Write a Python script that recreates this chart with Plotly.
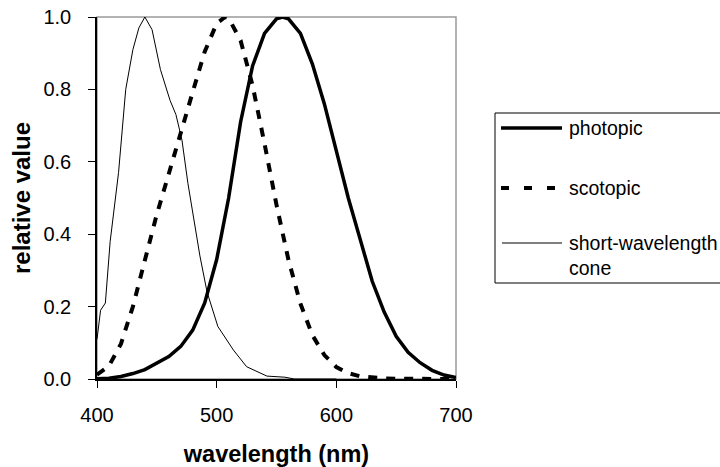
import plotly.graph_objects as go

# ---------------- data ----------------
photopic_nm = [400, 410, 420, 430, 440, 450, 460, 470, 480, 490, 500, 510, 520, 530, 540,
               550, 555, 560, 570, 580, 590, 600, 610, 620, 630, 640, 650, 660, 670, 680, 690, 700]
photopic_val = [0.001, 0.002, 0.007, 0.015, 0.026, 0.043, 0.062, 0.09, 0.135, 0.21, 0.33, 0.50,
                0.71, 0.865, 0.955, 0.995, 1.0, 0.995, 0.955, 0.87, 0.76, 0.63, 0.50, 0.385,
                0.27, 0.185, 0.118, 0.074, 0.045, 0.024, 0.011, 0.004]

scotopic_nm = [400, 410, 420, 430, 440, 450, 460, 470, 480, 490, 500, 507, 510, 520, 530, 540,
               550, 560, 570, 580, 590, 600, 610, 620, 630, 640, 650, 660, 670, 680, 690, 700]
scotopic_val = [0.012, 0.036, 0.097, 0.20, 0.328, 0.455, 0.567, 0.676, 0.793, 0.904, 0.982, 1.0,
                0.997, 0.935, 0.811, 0.65, 0.481, 0.329, 0.208, 0.121, 0.066, 0.033, 0.016,
                0.0074, 0.0033, 0.0015, 0.0007, 0.0003, 0.00015, 0.00007, 0.00004, 0.00002]

scone_nm = [400, 403, 407, 411, 418, 424, 430, 435, 440, 446, 453, 461, 466, 471, 476, 483,
            486, 492, 501, 514, 525, 542, 557, 565, 580, 600]
scone_val = [0.11, 0.19, 0.21, 0.38, 0.57, 0.80, 0.91, 0.97, 1.0, 0.965, 0.855, 0.77, 0.73,
             0.66, 0.54, 0.40, 0.34, 0.24, 0.145, 0.08, 0.034, 0.008, 0.005, 0.0, 0.0, 0.0]

series_names = ["photopic", "scotopic", "short-wavelength<br>cone"]
x_ticks = [400, 500, 600, 700]
y_ticks = [0.0, 0.2, 0.4, 0.6, 0.8, 1.0]
y_tick_text = ["0.0", "0.2", "0.4", "0.6", "0.8", "1.0"]

# ---------------- figure ----------------
FONT = "Liberation Sans, Arial, sans-serif"
W, H = 720, 467
ML, MR, MT, MB = 97, 264, 17, 88
PW = W - ML - MR
PH = H - MT - MB


def px_x(p):
    return (p - ML) / PW


def px_y(p):
    return (H - MB - p) / PH


fig = go.Figure()
fig.add_trace(go.Scatter(x=scone_nm, y=scone_val, mode="lines",
                         line=dict(color="black", width=1), name=series_names[2]))
fig.add_trace(go.Scatter(x=scotopic_nm, y=scotopic_val, mode="lines",
                         line=dict(color="black", width=4, dash="9px,9px"), name=series_names[1]))
fig.add_trace(go.Scatter(x=photopic_nm, y=photopic_val, mode="lines",
                         line=dict(color="black", width=3.5), name=series_names[0]))

shapes = [
    # grey frame (top/right)
    dict(type="rect", xref="paper", yref="paper", x0=0, x1=1, y0=0, y1=1,
         line=dict(color="#9a9a9a", width=1.5), layer="below"),
    # legend box
    dict(type="rect", xref="paper", yref="paper", x0=px_x(495), x1=px_x(760),
         y0=px_y(283), y1=px_y(113), line=dict(color="black", width=1)),
    dict(type="line", xref="paper", yref="paper", x0=px_x(501), x1=px_x(562),
         y0=px_y(128), y1=px_y(128), line=dict(color="black", width=3.5)),
    dict(type="line", xref="paper", yref="paper", x0=px_x(501), x1=px_x(563),
         y0=px_y(188), y1=px_y(188), line=dict(color="black", width=4, dash="8px,15px")),
    dict(type="line", xref="paper", yref="paper", x0=px_x(502), x1=px_x(562),
         y0=px_y(243), y1=px_y(243), line=dict(color="black", width=1)),
]

LEG_FONT = dict(size=19.5, color="black", family=FONT)
annotations = [
    dict(text=series_names[0], x=px_x(567), y=px_y(128), xref="paper", yref="paper",
         xanchor="left", yanchor="middle", showarrow=False, font=LEG_FONT),
    dict(text=series_names[1], x=px_x(567), y=px_y(188), xref="paper", yref="paper",
         xanchor="left", yanchor="middle", showarrow=False, font=LEG_FONT),
    dict(text=series_names[2], x=px_x(567), y=px_y(256), xref="paper", yref="paper",
         xanchor="left", yanchor="middle", align="left", showarrow=False, font=LEG_FONT),
]

fig.update_layout(
    width=W, height=H,
    margin=dict(l=ML, r=MR, t=MT, b=MB, autoexpand=False),
    paper_bgcolor="white", plot_bgcolor="white",
    showlegend=False,
    font=dict(family=FONT, color="black"),
    shapes=shapes, annotations=annotations,
)
fig.update_xaxes(
    range=[400, 700], tickvals=x_ticks, ticks="outside", ticklen=7, tickcolor="black",
    showline=True, linecolor="black", linewidth=1.5, showgrid=False, zeroline=False,
    tickfont=dict(size=20, family=FONT), ticklabelstandoff=10,
    title=dict(text="<b>wavelength (nm)</b>", font=dict(size=23.5, family=FONT), standoff=22),
)
fig.update_yaxes(
    range=[0, 1], tickvals=y_ticks, ticktext=y_tick_text, ticks="outside", ticklen=7,
    tickcolor="black", showline=True, linecolor="black", linewidth=1.5, showgrid=False,
    zeroline=False, tickfont=dict(size=20, family=FONT), ticklabelstandoff=13,
    title=dict(text="<b>relative value</b>", font=dict(size=24, family=FONT), standoff=6),
)

fig.write_html("out.html", config={"displayModeBar": False},
               post_script="document.body.style.margin='0px';")
